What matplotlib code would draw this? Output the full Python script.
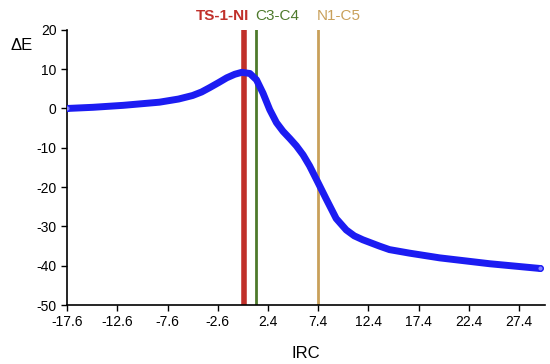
import matplotlib.pyplot as plt

plt.rcParams["font.family"] = ["Liberation Sans", "DejaVu Sans"]
plt.rcParams["axes.unicode_minus"] = False

# IRC profile
irc = [-17.6, -15.0, -12.0, -8.4, -6.5, -5.1, -4.2, -3.4, -2.5, -1.7, -0.9,
       -0.2, 0.6, 1.26, 1.91, 2.58, 3.25, 3.9, 4.6, 5.23, 5.9, 6.55, 7.38,
       8.2, 9.2, 10.2, 11.0, 11.85, 13.5, 14.5, 16.5, 19.5, 24.5, 29.5]
delta_e = [0.0, 0.3, 0.8, 1.6, 2.4, 3.3, 4.2, 5.3, 6.6, 7.8, 8.7,
           9.2, 8.9, 7.3, 3.9, -0.3, -3.6, -5.8, -7.7, -9.5, -11.8, -14.6, -18.8,
           -23.0, -28.0, -30.9, -32.4, -33.4, -35.0, -35.9, -36.8, -38.0, -39.5, -40.7]

# marker lines along the path
marker_names = ["TS-1-NI", "C3-C4", "N1-C5"]
marker_pos = [0.0, 1.2, 7.4]
marker_colors = ["#c0302a", "#4e7a2c", "#c9a05a"]
marker_widths = [4, 2, 2]
marker_weights = ["bold", "normal", "normal"]
marker_align = ["right", "left", "left"]

x_ticks = [-17.6, -12.6, -7.6, -2.6, 2.4, 7.4, 12.4, 17.4, 22.4, 27.4]
y_ticks = [-50, -40, -30, -20, -10, 0, 10, 20]

fig = plt.figure(figsize=(5.5, 3.64), dpi=100)
ax = fig.add_axes([0.122, 0.162, 0.869, 0.756])

for name, pos, col, lw, wt, ha in zip(marker_names, marker_pos, marker_colors,
                                      marker_widths, marker_weights, marker_align):
    ax.axvline(pos, color=col, lw=lw, zorder=1)
    nudge = 0.5 if ha == "right" else -0.1
    ax.text(pos + nudge, 21.8, name, color=col, fontsize=11, fontweight=wt,
            ha=ha, va="bottom")

ax.plot(irc, delta_e, color="#1c1cf2", lw=5, solid_capstyle="round",
        solid_joinstyle="round", zorder=2)
ax.plot([irc[0], irc[-1]], [delta_e[0], delta_e[-1]], "o", color="#1c1cf2",
        ms=4, mfc="#8080ff", zorder=3)

ax.set_xlim(-17.6, 30.0)
ax.set_ylim(-50, 20)
ax.set_xticks(x_ticks)
ax.set_xticklabels([str(t) for t in x_ticks])
ax.set_yticks(y_ticks)
ax.tick_params(labelsize=10, direction="out", length=4, width=1)

ax.spines["top"].set_visible(False)
ax.spines["right"].set_visible(False)
ax.spines["left"].set_linewidth(1.2)
ax.spines["bottom"].set_linewidth(1.2)

ax.set_xlabel("IRC", fontsize=12, labelpad=12)
fig.text(0.04, 0.875, "\u0394E", fontsize=12, ha="center", va="center")

fig.savefig("out.png", dpi=100)
